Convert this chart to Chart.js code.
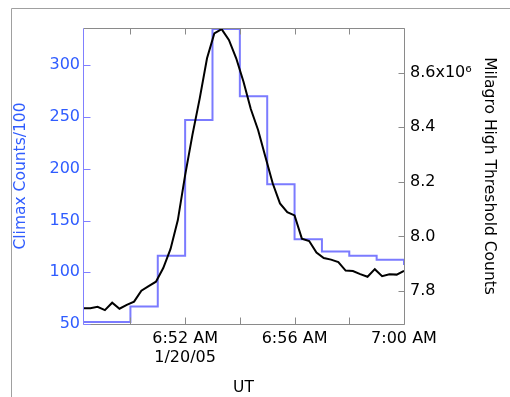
<!DOCTYPE html>
<html>
<head>
<meta charset="utf-8">
<script src="https://cdn.jsdelivr.net/npm/chart.js@4"></script>
<style>
  html, body { margin: 0; padding: 0; background: #fff; }
  #wrap { width: 510px; height: 397px; }
</style>
</head>
<body>
<div id="wrap"><canvas id="grafik"></canvas></div>
<script>
// Climax neutron monitor, 1-minute bins (bin start time), counts/100
const climaxBins = ['06:48', '06:50', '06:51', '06:52', '06:53', '06:54', '06:55', '06:56', '06:57', '06:58', '06:59', '07:00']
const climaxCounts = [52, 67, 116, 247, 335, 270, 185, 132, 120, 116, 112, 107]

// Milagro high threshold counts, millions
const milagroTimes = [
    '06:48:16', '06:48:32', '06:48:48', '06:49:04', '06:49:20', '06:49:36', '06:49:52', '06:50:08', '06:50:24',
    '06:50:40', '06:50:56', '06:51:12', '06:51:28', '06:51:44', '06:52:00', '06:52:16', '06:52:32', '06:52:48',
    '06:53:04', '06:53:20', '06:53:36', '06:53:52', '06:54:08', '06:54:24', '06:54:40', '06:54:56', '06:55:12',
    '06:55:28', '06:55:44', '06:56:00', '06:56:16', '06:56:32', '06:56:48', '06:57:04', '06:57:20', '06:57:36',
    '06:57:52', '06:58:08', '06:58:24', '06:58:40', '06:58:56', '06:59:12', '06:59:28', '06:59:44', '07:00:00'
]
const milagroCounts = [
    7.737, 7.737, 7.742, 7.730, 7.757, 7.735, 7.749, 7.761, 7.801,
    7.818, 7.834, 7.884, 7.954, 8.060, 8.225, 8.372, 8.506, 8.653,
    8.744, 8.760, 8.720, 8.653, 8.567, 8.467, 8.390, 8.292, 8.195,
    8.121, 8.089, 8.077, 7.992, 7.983, 7.941, 7.921, 7.915, 7.906,
    7.875, 7.873, 7.862, 7.852, 7.880, 7.854, 7.861, 7.860, 7.874
]

const xLabels = { 52: ['6:52 AM', '1/20/05'], 56: '6:56 AM', 60: '7:00 AM' }
const rightLabels = { '8.6': '8.6x10\u2076' }

const BLUE = '#2f5cff'
const FONT = { family: 'DejaVu Sans', size: 16 }
const TITLE_FONT = { family: 'DejaVu Sans', size: 15.5 }

// minutes after 6:00
function toMin(s) {
    const p = s.split(':').map(Number)
    return (p[0] - 6) * 60 + p[1] + (p[2] || 0) / 60
}

function px(v) {
    return Math.round(v) + 0.5
}

const frame = {
    id: 'frame',
    afterDraw(chart) {
        const { ctx, chartArea: a, scales } = chart
        const L = px(a.left), R = px(a.right), T = px(a.top), B = px(a.bottom)
        ctx.save()
        ctx.lineWidth = 1

        // page border
        ctx.strokeStyle = '#a0a0a0'
        ctx.beginPath()
        ctx.moveTo(11.5, chart.height)
        ctx.lineTo(11.5, 8.5)
        ctx.lineTo(chart.width, 8.5)
        ctx.stroke()

        // plot box
        ctx.strokeStyle = '#8a8a8a'
        ctx.beginPath()
        ctx.moveTo(L, T); ctx.lineTo(R, T); ctx.lineTo(R, B); ctx.lineTo(L, B)
        scales.x.ticks.forEach((t, i) => {
            const x = px(scales.x.getPixelForTick(i))
            ctx.moveTo(x, B); ctx.lineTo(x, B - 7)
            ctx.moveTo(x, T); ctx.lineTo(x, T + 6)
        })
        scales.y1.ticks.forEach((t, i) => {
            const y = px(scales.y1.getPixelForTick(i))
            ctx.moveTo(R, y); ctx.lineTo(R - 6, y)
        })
        ctx.stroke()

        ctx.strokeStyle = '#8080ff'
        ctx.beginPath()
        ctx.moveTo(L, T); ctx.lineTo(L, B)
        scales.y.ticks.forEach((t, i) => {
            const y = px(scales.y.getPixelForTick(i))
            ctx.moveTo(L, y); ctx.lineTo(L + 7, y)
        })
        ctx.stroke()
        ctx.restore()
    }
}

new Chart(document.getElementById('grafik'), {
    type: 'line',
    data: {
        datasets: [
            {
                label: 'Milagro',
                data: milagroTimes.map((t, i) => ({ x: toMin(t), y: milagroCounts[i] })),
                yAxisID: 'y1',
                borderColor: '#000',
                borderWidth: 2,
                pointRadius: 0,
                tension: 0
            },
            {
                label: 'Climax',
                data: climaxBins.map((t, i) => ({ x: toMin(t), y: climaxCounts[i] })),
                yAxisID: 'y',
                borderColor: '#7b7bff',
                borderWidth: 2,
                pointRadius: 0,
                stepped: 'before'
            }
        ]
    },
    options: {
        responsive: true,
        maintainAspectRatio: false,
        animation: false,
        layout: { padding: { top: 28, left: 0, right: 0, bottom: 0 } },
        plugins: { legend: { display: false }, tooltip: { enabled: false } },
        scales: {
            x: {
                type: 'linear',
                position: 'bottom',
                min: 48 + 16 / 60,
                max: 60,
                afterFit: s => { s.height = 73 },
                grid: { display: false, drawTicks: false },
                border: { display: false },
                ticks: {
                    stepSize: 2,
                    includeBounds: false,
                    autoSkip: false,
                    maxRotation: 0,
                    padding: 5,
                    color: '#000',
                    font: FONT,
                    callback: v => xLabels[v] || ''
                },
                title: { display: true, text: 'UT', color: '#000', font: TITLE_FONT, padding: { top: 0, bottom: 0 } }
            },
            y: {
                position: 'left',
                min: 50,
                max: 336,
                afterFit: s => { s.width = 83 },
                grid: { display: false, drawTicks: false },
                border: { display: false },
                ticks: { stepSize: 50, includeBounds: false, padding: 3, color: BLUE, font: FONT },
                title: { display: true, text: 'Climax Counts/100', color: BLUE, font: TITLE_FONT, padding: { top: 12, bottom: 0 } }
            },
            y1: {
                position: 'right',
                min: 7.679,
                max: 8.764,
                afterFit: s => { s.width = 106 },
                grid: { display: false, drawTicks: false },
                border: { display: false },
                ticks: {
                    stepSize: 0.2,
                    includeBounds: false,
                    padding: 6,
                    color: '#000',
                    font: FONT,
                    callback: v => rightLabels[v.toFixed(1)] || v.toFixed(1)
                },
                title: { display: true, text: 'Milagro High Threshold Counts', color: '#000', font: TITLE_FONT, padding: { top: 12, bottom: 0 } }
            }
        }
    },
    plugins: [frame]
})
</script>
</body>
</html>
